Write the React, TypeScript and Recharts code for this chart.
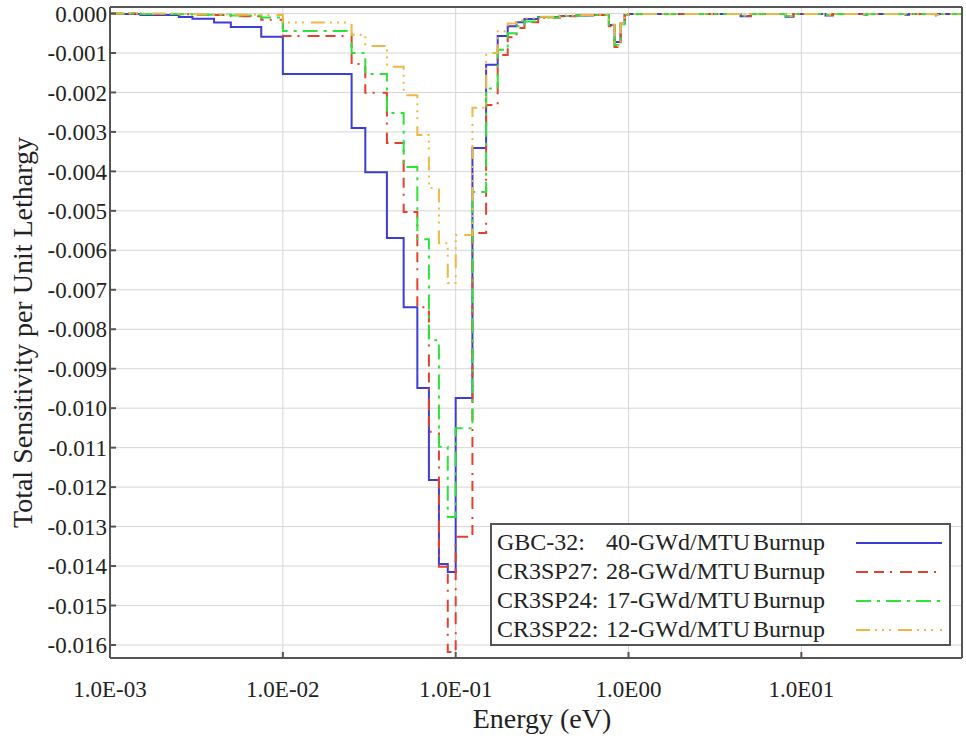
import { LineChart, Line, XAxis, YAxis, CartesianGrid, Legend, Label } from "recharts";

// group boundaries (eV), one more than the values per series
const energyBounds = [
  0.001, 0.0015, 0.0025, 0.003, 0.004, 0.005, 0.0075, 0.01, 0.025, 0.03, 0.04, 0.05, 0.06, 0.07, 0.08,
  0.09, 0.1, 0.125, 0.15, 0.175, 0.2, 0.225, 0.25, 0.3, 0.4, 0.5, 0.625, 0.77, 0.83, 0.9, 0.95, 1.0,
  4.45, 5.1, 8.1, 9.0, 13.8, 15.2, 23, 24, 40, 42, 60, 62, 85,
];

const gbc32 = [
  -0.00001, -0.00004, -0.00009, -0.00013, -0.00023, -0.00034, -0.00059, -0.00153, -0.0029, -0.00402,
  -0.00569, -0.00744, -0.00949, -0.01182, -0.01395, -0.01415, -0.00974, -0.00341, -0.0013, -0.00057,
  -0.00032, -0.00022, -0.00014, -0.00009, -0.00006, -0.00005, -0.00004, -0.00029, -0.00072, -0.00025,
  -0.00004, -0.00001, -0.00007, -0.00001, -0.00008, -0.00001, -0.00005, -0.00001, -0.00003, -0.00001,
  -0.00003, -0.00001, -0.00002, -0.00001,
];
const cr3sp27 = [
  0, -0.00001, -0.00002, -0.00003, -0.00004, -0.00007, -0.00016, -0.00057, -0.00128, -0.00201,
  -0.00328, -0.00503, -0.00744, -0.0106, -0.01402, -0.01618, -0.01326, -0.00556, -0.00232, -0.00105,
  -0.0006, -0.00037, -0.00022, -0.00011, -0.00007, -0.00005, -0.00004, -0.00032, -0.00085, -0.00028,
  -0.00004, -0.00001, -0.00006, -0.00001, -0.00007, -0.00001, -0.00004, -0.00001, -0.00005, -0.00001,
  -0.00002, -0.00001, -0.00005, -0.00001,
];
const cr3sp24 = [
  0, -0.00001, -0.00002, -0.00003, -0.00003, -0.00005, -0.0001, -0.00044, -0.001, -0.00153,
  -0.00252, -0.00389, -0.00572, -0.00828, -0.01098, -0.01276, -0.01051, -0.00452, -0.0019, -0.00092,
  -0.0005, -0.00032, -0.0002, -0.0001, -0.00006, -0.00005, -0.00004, -0.0003, -0.0008, -0.00027,
  -0.00004, -0.00001, -0.00005, -0.00001, -0.00006, -0.00001, -0.00004, -0.00001, -0.00003, -0.00001,
  -0.00002, -0.00001, -0.00003, -0.00001,
];
const cr3sp22 = [
  0, 0, -0.00001, -0.00002, -0.00002, -0.00003, -0.00004, -0.00023, -0.00054, -0.00082,
  -0.00135, -0.00207, -0.00308, -0.00442, -0.00582, -0.00683, -0.00561, -0.00239, -0.001, -0.00045,
  -0.00025, -0.00018, -0.00012, -0.00008, -0.00005, -0.00004, -0.00003, -0.00028, -0.00082, -0.00025,
  -0.00003, -0.00001, -0.00005, -0.00001, -0.00006, -0.00001, -0.00003, -0.00001, -0.00003, -0.00001,
  -0.00002, -0.00001, -0.00003, -0.00001,
];

const seriesNames = ["GBC-32:", "CR3SP27:", "CR3SP24:", "CR3SP22:"];
const burnupLabels = ["40-GWd/MTU Burnup", "28-GWd/MTU Burnup", "17-GWd/MTU Burnup", "12-GWd/MTU Burnup"];

const xTicks = [0.001, 0.01, 0.1, 1, 10];
const xTickLabels = ["1.0E-03", "1.0E-02", "1.0E-01", "1.0E00", "1.0E01"];
const yTicks = [
  0, -0.001, -0.002, -0.003, -0.004, -0.005, -0.006, -0.007, -0.008, -0.009, -0.01, -0.011, -0.012,
  -0.013, -0.014, -0.015, -0.016,
];

const series = [
  { key: "gbc32", values: gbc32, color: "#3c3cd8", dash: undefined },
  { key: "cr3sp27", values: cr3sp27, color: "#e5402e", dash: "12 6 10 6 2 8" },
  { key: "cr3sp24", values: cr3sp24, color: "#2ee23a", dash: "15 6 3 6" },
  { key: "cr3sp22", values: cr3sp22, color: "#f1b744", dash: "14 5 2 5 2 5 2 7" },
];

const rows = energyBounds.map((energy, i) => {
  const row: Record<string, number> = { energy };
  series.forEach((s) => {
    row[s.key] = s.values[Math.min(i, s.values.length - 1)];
  });
  return row;
});

const font = "Liberation Serif, Times New Roman, serif";
const frame = "#555";
const tickStyle = { fontSize: 23, fill: "#222", fontFamily: font, style: { fontFamily: font } };

function LegendBox() {
  return (
    <div
      style={{
        width: 457,
        border: `2px solid ${frame}`,
        background: "#fff",
        paddingTop: 3,
        fontFamily: font,
        fontSize: 24,
        color: "#222",
      }}
    >
      {series.map((s, i) => (
        <div key={s.key} style={{ position: "relative", height: 29, lineHeight: "29px", paddingLeft: 5, whiteSpace: "nowrap" }}>
          <span style={{ display: "inline-block", width: 109 }}>{seriesNames[i]}</span>
          <span style={{ wordSpacing: -3 }}>{burnupLabels[i]}</span>
          <svg width={88} height={29} style={{ position: "absolute", left: 364, top: 0 }}>
            <line x1={0} x2={86} y1={15} y2={15} stroke={s.color} strokeWidth={2} strokeDasharray={s.dash} />
          </svg>
        </div>
      ))}
    </div>
  );
}

export default function App() {
  return (
    <div style={{ position: "absolute", left: 0, top: 0, background: "#fff", fontFamily: font }}>
      <LineChart width={966} height={741} data={rows} margin={{ top: 0, right: 0, left: 0, bottom: 0 }} style={{ fontFamily: font }}>
        <CartesianGrid stroke="#d6d6d6" strokeWidth={1} />
        <XAxis
          dataKey="energy"
          type="number"
          scale="log"
          domain={[0.001, 85]}
          allowDataOverflow
          ticks={xTicks}
          tickFormatter={(v: number) => xTickLabels[xTicks.indexOf(v)] ?? ""}
          height={83}
          stroke={frame}
          strokeWidth={2}
          tickSize={-6}
          tickMargin={29}
          tick={tickStyle}
        >
          <Label value="Energy (eV)" position="center" dx={6} dy={19} style={{ fontSize: 28, fill: "#222", fontFamily: font }} />
        </XAxis>
        <XAxis
          xAxisId="top"
          orientation="top"
          dataKey="energy"
          type="number"
          scale="log"
          domain={[0.001, 85]}
          allowDataOverflow
          ticks={xTicks}
          height={7}
          stroke={frame}
          strokeWidth={2}
          tickSize={-6}
          tick={false}
        />
        <YAxis
          type="number"
          domain={[-0.01633, 0.000165]}
          allowDataOverflow
          ticks={yTicks}
          tickFormatter={(v: number) => v.toFixed(3)}
          width={110}
          stroke={frame}
          strokeWidth={2}
          tickSize={-6}
          tickMargin={9}
          tick={tickStyle}
        >
          <Label
            value="Total Sensitivity per Unit Lethargy"
            position="center"
            angle={-90}
            dx={-33}
            style={{ fontSize: 28, fill: "#222", fontFamily: font, textAnchor: "middle" }}
          />
        </YAxis>
        <YAxis
          yAxisId="right"
          orientation="right"
          type="number"
          domain={[-0.01633, 0.000165]}
          allowDataOverflow
          ticks={yTicks}
          width={4}
          stroke={frame}
          strokeWidth={2}
          tickSize={-6}
          tick={false}
        />
        {series.map((s, i) => (
          <Line
            key={s.key}
            type="stepAfter"
            dataKey={s.key}
            name={`${seriesNames[i]} ${burnupLabels[i]}`}
            stroke={s.color}
            strokeWidth={2}
            strokeDasharray={s.dash}
            dot={false}
            activeDot={false}
            isAnimationActive={false}
          />
        ))}
        <Legend
          layout="horizontal"
          verticalAlign="middle"
          align="center"
          content={() => <LegendBox />}
          wrapperStyle={{ position: "absolute", left: 490, top: 523, width: 461 }}
        />
      </LineChart>
    </div>
  );
}
